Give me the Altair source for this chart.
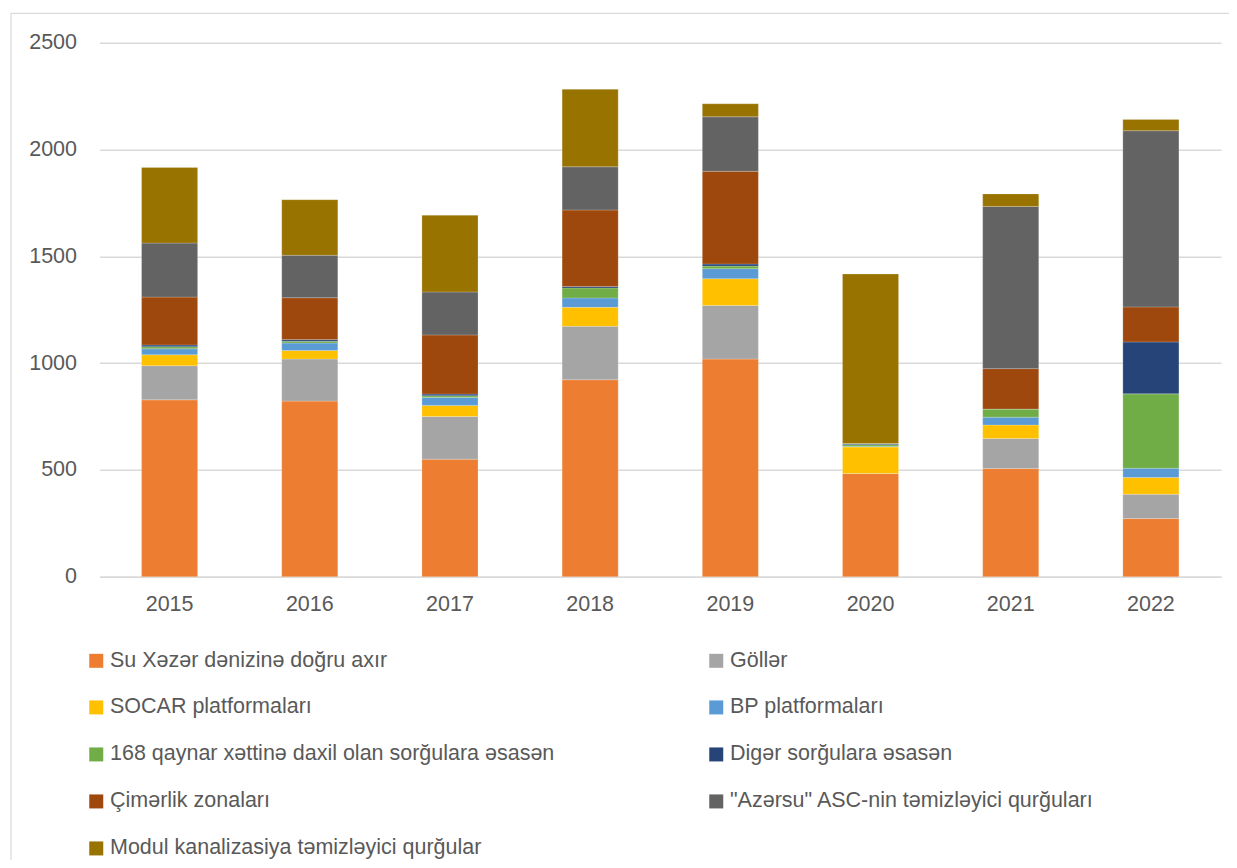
import altair as alt
import pandas as pd

years = ["2015", "2016", "2017", "2018", "2019", "2020", "2021", "2022"]

series_names = [
    "Su Xəzər dənizinə doğru axır",
    "Göllər",
    "SOCAR platformaları",
    "BP platformaları",
    "168 qaynar xəttinə daxil olan sorğulara əsasən",
    "Digər sorğulara əsasən",
    "Çimərlik zonaları",
    "\"Azərsu\" ASC-nin təmizləyici qurğuları",
    "Modul kanalizasiya təmizləyici qurğular",
]

su = [828, 822, 550, 922, 1019, 483, 506, 272]
gollar = [160, 197, 200, 250, 251, 0, 141, 114]
socar = [51, 40, 52, 89, 125, 124, 63, 78]
bp = [28, 35, 37, 44, 47, 3, 37, 44]
hotline = [10, 8, 8, 47, 12, 8, 38, 348]
diger = [8, 8, 8, 7, 10, 5, 0, 243]
cimerlik = [224, 196, 277, 358, 434, 0, 189, 164]
azersu = [253, 199, 201, 202, 255, 0, 759, 825]
modul = [354, 260, 359, 363, 61, 794, 59, 53]

colors = ["#ED7D31", "#A5A5A5", "#FFC000", "#5B9BD5", "#70AD47",
          "#264478", "#9E480E", "#636363", "#997300"]

all_series = [su, gollar, socar, bp, hotline, diger, cimerlik, azersu, modul]

rows = []
for si, (name, vals) in enumerate(zip(series_names, all_series)):
    for y, v in zip(years, vals):
        rows.append({"year": y, "series": name, "value": v, "order": si})
df = pd.DataFrame(rows)

FONT = "Liberation Sans"
W, H = 1121.5, 534

bars = alt.Chart(df).mark_bar(stroke="white", strokeWidth=0.6, strokeOpacity=0.35).encode(
    x=alt.X("year:N", sort=years,
            scale=alt.Scale(paddingInner=0.6, paddingOuter=0.3),
            axis=alt.Axis(title=None, labelAngle=0, ticks=False, domain=True,
                          domainColor="#d9d9d9", domainWidth=1.5,
                          labelFont=FONT, labelFontSize=21.5, labelColor="#595959",
                          labelPadding=17, grid=False)),
    y=alt.Y("value:Q", stack="zero",
            scale=alt.Scale(domain=[0, 2500], nice=False),
            axis=alt.Axis(title=None, values=[0, 500, 1000, 1500, 2000, 2500],
                          format="d",
                          ticks=False, domain=False, grid=True,
                          gridColor="#d9d9d9", gridWidth=1.4,
                          labelFont=FONT, labelFontSize=21.5, labelColor="#595959",
                          labelPadding=23)),
    color=alt.Color("series:N",
                    scale=alt.Scale(domain=series_names, range=colors),
                    legend=alt.Legend(title=None, orient="none",
                                      direction="horizontal",
                                      legendX=-14, legendY=607,
                                      columns=2, columnPadding=150,
                                      rowPadding=24, padding=0,
                                      symbolType="square", symbolSize=196,
                                      symbolStrokeWidth=0, labelOffset=3,
                                      labelFont=FONT, labelFontSize=21.5,
                                      labelColor="#595959", labelLimit=800)),
    order=alt.Order("order:Q", sort="ascending"),
)

frame = alt.Chart(pd.DataFrame({"a": [0]})).mark_rect(
    fill=None, stroke="#d9d9d9", strokeWidth=1.2
).encode(
    x=alt.value(-88.5), x2=alt.value(1300),
    y=alt.value(-29.4), y2=alt.value(1000),
)

chart = alt.layer(frame, bars).properties(
    width=W, height=H,
    autosize=alt.AutoSizeParams(type="none"),
    padding={"left": 91.5, "top": 34.7, "right": 8, "bottom": 283},
    background="white",
).configure_view(stroke=None)

chart.save("out.html", embed_options={"renderer": "svg", "actions": False})
